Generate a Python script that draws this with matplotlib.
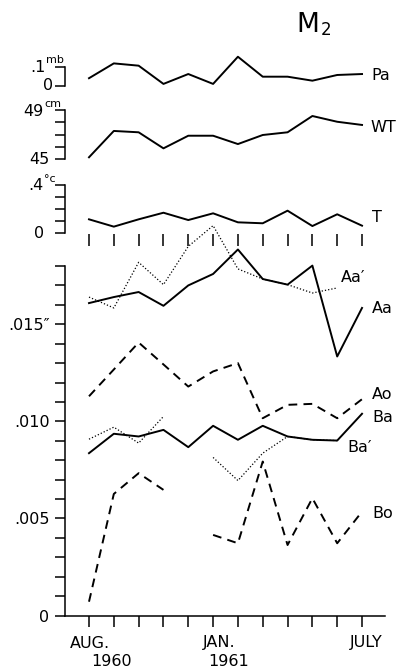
import numpy as np
import matplotlib
matplotlib.use("Agg")
import matplotlib.pyplot as plt

nan = np.nan

# ---------------- data ----------------
months = ["AUG", "SEP", "OCT", "NOV", "DEC", "JAN", "FEB", "MAR", "APR", "MAY", "JUN", "JUL"]
pa = [0.041, 0.119, 0.107, 0.011, 0.063, 0.011, 0.154, 0.049, 0.049, 0.028, 0.058, 0.063]
wt = [45.14, 47.29, 47.18, 45.87, 46.90, 46.90, 46.22, 46.96, 47.18, 48.51, 48.04, 47.78]
temp = [0.114, 0.053, 0.114, 0.169, 0.108, 0.164, 0.089, 0.081, 0.186, 0.058, 0.156, 0.061]
aa = [0.01609, 0.01640, 0.01666, 0.01595, 0.01700, 0.01759, 0.01885, 0.01733, 0.01704, 0.01802, 0.01334, 0.01584]
aa_p = [0.01640, 0.01584, 0.01819, 0.01704, 0.01901, 0.02008, 0.01785, 0.01733, 0.01704, 0.01661, 0.01687, nan]
ao = [0.01129, 0.01267, 0.01406, 0.01293, 0.01179, 0.01257, 0.01300, 0.01016, 0.01085, 0.01090, 0.01016, 0.01114]
ba = [0.00836, 0.00936, 0.00922, 0.00956, 0.00867, 0.00977, 0.00905, 0.00977, 0.00922, 0.00905, 0.00901, 0.01039]
ba_p = [0.00908, 0.00970, 0.00888, 0.01025, nan, 0.00814, 0.00695, 0.00836, 0.00922, 0.00905, 0.00901, nan]
bo = [0.00071, 0.00626, 0.00733, 0.00647, nan, 0.00415, 0.00372, 0.00793, 0.00363, 0.00604, 0.00372, 0.00535]

bottom_ticks = [0, 0.005, 0.010, 0.015]
bottom_ticklabels = ["0", ".005", ".010", ".015\u2033"]

# ---------------- layout ----------------
W, H = 405, 671
DPI = 100
fig = plt.figure(figsize=(W / DPI, H / DPI), dpi=DPI)
fig.patch.set_facecolor("white")

L_PX, R_PX = 65, 385
X0_PX, DX_PX = 89, 24.82
x = np.arange(len(months))
xlim = ((L_PX - X0_PX) / DX_PX, (R_PX - X0_PX) / DX_PX)

LW_AX = 1.1
LW_DATA = 1.4
FS = 11.5
TXT = dict(fontsize=FS, color="black", family="DejaVu Sans")


def fpos(xp, yp):
    return xp / W, 1 - yp / H


def make_axes(top_px, bot_px, v0, y0, v1, y1):
    ax = fig.add_axes([L_PX / W, 1 - bot_px / H, (R_PX - L_PX) / W, (bot_px - top_px) / H])
    slope = (v1 - v0) / (y1 - y0)
    ax.set_ylim(v0 + (bot_px - y0) * slope, v0 + (top_px - y0) * slope)
    ax.set_xlim(*xlim)
    ax.patch.set_visible(False)
    for s in ("top", "right", "bottom"):
        ax.spines[s].set_visible(False)
    ax.spines["left"].set_linewidth(LW_AX)
    ax.tick_params(axis="y", direction="out", length=7.2, width=LW_AX, labelleft=False)
    ax.tick_params(axis="x", bottom=False, labelbottom=False)
    return ax


def ftext(xp, yp, s, ha="left", va="center", **kw):
    d = dict(TXT)
    d.update(kw)
    fig.text(*fpos(xp, yp), s, ha=ha, va=va, **d)


# Pa panel
ax_pa = make_axes(45, 95, 0.0, 86, 0.1, 67)
ax_pa.spines["left"].set_bounds(0, 0.1)
ax_pa.set_yticks([0, 0.1])
ax_pa.plot(x, pa, color="black", lw=LW_DATA, clip_on=False)

# WT panel
ax_wt = make_axes(100, 165, 45, 159, 49, 110)
ax_wt.spines["left"].set_bounds(45, 49)
ax_wt.set_yticks([45, 46, 47, 48, 49])
ax_wt.plot(x, wt, color="black", lw=LW_DATA, clip_on=False)

# T panel
ax_t = make_axes(175, 246, 0.0, 233, 0.4, 185)
ax_t.spines["left"].set_bounds(0, 0.4)
ax_t.set_yticks([0, 0.1, 0.2, 0.3, 0.4])
ax_t.set_xticks(x)
ax_t.tick_params(axis="x", bottom=True, direction="in", length=9, width=LW_AX, labelbottom=False)
ax_t.plot(x, temp, color="black", lw=LW_DATA, clip_on=False)

# bottom panel
ax = fig.add_axes([L_PX / W, 1 - 615.5 / H, (R_PX - L_PX) / W, (615.5 - 266) / H])
ax.set_xlim(*xlim)
ax.set_ylim(0, 0.018)
ax.patch.set_visible(False)
for s in ("top", "right"):
    ax.spines[s].set_visible(False)
ax.spines["left"].set_linewidth(LW_AX)
ax.spines["bottom"].set_linewidth(LW_AX)
ax.set_yticks(bottom_ticks)
ax.set_yticklabels(bottom_ticklabels, **TXT)
ax.set_yticks(np.arange(0, 0.0185, 0.001), minor=True)
ax.tick_params(axis="y", which="both", direction="out", length=7.2, width=LW_AX, pad=4)
ax.set_xticks(x)
ax.tick_params(axis="x", direction="out", length=8, width=LW_AX, labelbottom=False)

dash = (0, (4.5, 3.2))
dot = (0, (1, 1.6))
ax.plot(x, aa, color="black", lw=LW_DATA, clip_on=False)
ax.plot(x, aa_p, color="black", lw=0.9, ls=dot, clip_on=False)
ax.plot(x, ao, color="black", lw=LW_DATA, ls=dash, clip_on=False)
ax.plot(x, ba, color="black", lw=LW_DATA, clip_on=False)
ax.plot(x, ba_p, color="black", lw=0.9, ls=dot, clip_on=False)
ax.plot(x, bo, color="black", lw=LW_DATA, ls=dash, clip_on=False)

# ---------------- text ----------------
ftext(296, 25, "M", fontsize=19)
ftext(321, 30, "2", fontsize=12)

# upper-panel axis labels
ftext(46, 68, ".1", ha="right")
ftext(46, 60, "mb", fontsize=8)
ftext(53, 86, "0", ha="right")
ftext(43, 111, "49", ha="right")
ftext(44, 104, "cm", fontsize=8)
ftext(49, 159, "45", ha="right")
ftext(44, 186, ".4", ha="right")
ftext(44, 179, "\u00b0c", fontsize=8)
ftext(44, 233, "0", ha="right")

# series labels
ftext(371, 75, "Pa")
ftext(370, 127, "WT")
ftext(372, 218, "T")
ftext(341, 278, "Aa\u2032")
ftext(372, 309, "Aa")
ftext(372, 394, "Ao")
ftext(372, 418, "Ba")
ftext(347, 447, "Ba\u2032")
ftext(372, 513, "Bo")

# x labels
ftext(90, 643, "AUG.", ha="center")
ftext(112, 662, "1960", ha="center")
ftext(219, 643, "JAN.", ha="center")
ftext(229, 662, "1961", ha="center")
ftext(366, 643, "JULY", ha="center")

fig.savefig("out.png", dpi=DPI, facecolor="white")
